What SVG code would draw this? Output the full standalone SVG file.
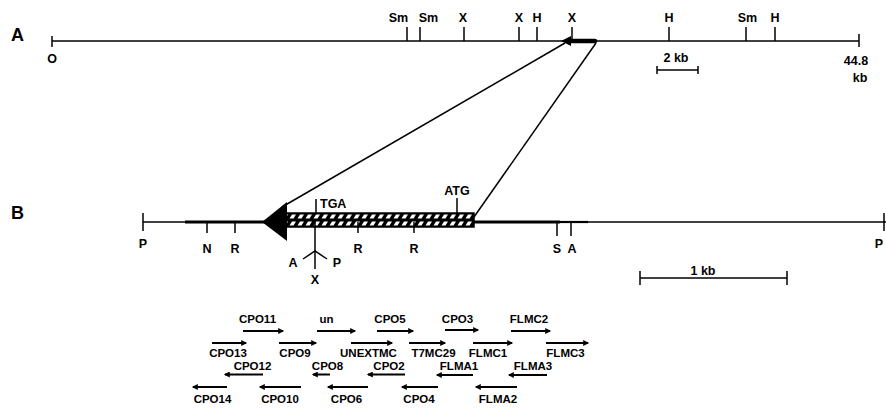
<svg xmlns="http://www.w3.org/2000/svg" width="886" height="410" viewBox="0 0 886 410">
<defs>
<style>
text{font-family:"Liberation Sans",Arial,sans-serif;fill:#000}
.lbl{font-size:12.5px;font-weight:bold;text-anchor:middle}
.big{font-size:18px;font-weight:bold}
.g{font-size:11.5px;font-weight:bold;text-anchor:middle}
.ln{stroke:#000;stroke-width:1.5;fill:none}
.thk{stroke:#000;stroke-width:3;fill:none}
.tk{stroke:#000;stroke-width:1.5}
.ar{stroke:#000;stroke-width:2;fill:none;marker-end:url(#ah)}
</style>
<marker id="ah" viewBox="0 0 10 10" refX="8" refY="5" markerWidth="3.5" markerHeight="3" orient="auto" markerUnits="strokeWidth">
<path d="M0,0 L10,5 L0,10 z" fill="#000"/>
</marker>
<pattern id="hatch" patternUnits="userSpaceOnUse" x="0" y="213" width="8" height="7">
<rect width="8" height="7" fill="#000"/>
<polygon points="1.5,5.5 4,1.5 8,1.5 5.5,5.5" fill="#fff"/>
</pattern>
</defs>

<g id="mapA">
<text class="big" x="11" y="41">A</text>
<line class="ln" x1="52" y1="41" x2="859" y2="41"/>
<line class="tk" x1="52" y1="36" x2="52" y2="47"/>
<line class="tk" x1="859" y1="34" x2="859" y2="47"/>
<text class="lbl" x="52" y="63">O</text>
<text class="lbl" x="856" y="65">44.8</text>
<text class="lbl" x="860" y="82">kb</text>
<g id="sitesA">
<line class="tk" x1="407" y1="27" x2="407" y2="41"/>
<line class="tk" x1="420" y1="27" x2="420" y2="41"/>
<line class="tk" x1="464" y1="27" x2="464" y2="41"/>
<line class="tk" x1="519" y1="27" x2="519" y2="41"/>
<line class="tk" x1="537" y1="27" x2="537" y2="41"/>
<line class="tk" x1="572" y1="27" x2="572" y2="41"/>
<line class="tk" x1="669" y1="27" x2="669" y2="41"/>
<line class="tk" x1="746" y1="27" x2="746" y2="41"/>
<line class="tk" x1="775" y1="27" x2="775" y2="41"/>
<text class="lbl" x="398.5" y="22">Sm</text>
<text class="lbl" x="428.5" y="22">Sm</text>
<text class="lbl" x="463" y="22">X</text>
<text class="lbl" x="519" y="22">X</text>
<text class="lbl" x="537" y="22">H</text>
<text class="lbl" x="572" y="22">X</text>
<text class="lbl" x="669" y="22">H</text>
<text class="lbl" x="747.5" y="22">Sm</text>
<text class="lbl" x="775" y="22">H</text>
</g>
<g id="geneA">
<line x1="568" y1="41" x2="595" y2="41" stroke="#000" stroke-width="4.5" stroke-linecap="round"/>
<polygon points="561,41 571,36 571,46" fill="#000"/>
</g>
<g id="scaleA">
<text class="lbl" x="676" y="62">2 kb</text>
<line class="ln" x1="657" y1="70" x2="698" y2="70"/>
<line class="tk" x1="657" y1="66" x2="657" y2="74"/>
<line class="tk" x1="698" y1="66" x2="698" y2="74"/>
</g>
</g>

<g id="connectors">
<line class="ln" x1="565" y1="43" x2="282" y2="207"/>
<line class="ln" x1="596" y1="43" x2="474" y2="217"/>
</g>

<g id="mapB">
<text class="big" x="11" y="219">B</text>
<line class="ln" x1="143" y1="222" x2="886" y2="222"/>
<line class="thk" x1="185" y1="222" x2="265" y2="222"/>
<line class="thk" x1="474" y1="222" x2="560" y2="222"/>
<line x1="560" y1="222" x2="588" y2="222" stroke="#000" stroke-width="2.2"/>
<line class="tk" x1="143" y1="213" x2="143" y2="231"/>
<line class="tk" x1="884" y1="213" x2="884" y2="231"/>
<text class="lbl" x="143" y="248">P</text>
<text class="lbl" x="879" y="248">P</text>
<g id="orf">
<rect x="285" y="213" width="189" height="14" fill="url(#hatch)" stroke="#000" stroke-width="1.5"/>
<line x1="285" y1="220" x2="474" y2="220" stroke="#000" stroke-width="1.2"/>
<polygon points="262,222 287,202 287,241" fill="#000"/>
</g>
<g id="sitesB">
<line class="tk" x1="316" y1="199" x2="316" y2="213"/>
<text class="lbl" x="320" y="208" style="text-anchor:start">TGA</text>
<line class="tk" x1="457" y1="198" x2="457" y2="213"/>
<text class="lbl" x="457" y="195">ATG</text>
<line class="tk" x1="207" y1="222" x2="207" y2="233"/>
<line class="tk" x1="235" y1="222" x2="235" y2="233"/>
<line class="tk" x1="358" y1="222" x2="358" y2="233"/>
<line class="tk" x1="414" y1="222" x2="414" y2="233"/>
<line class="tk" x1="557" y1="222" x2="557" y2="236"/>
<line class="tk" x1="571" y1="222" x2="571" y2="236"/>
<text class="lbl" x="207" y="253">N</text>
<text class="lbl" x="235" y="253">R</text>
<text class="lbl" x="358" y="253">R</text>
<text class="lbl" x="414" y="253">R</text>
<text class="lbl" x="557" y="253">S</text>
<text class="lbl" x="572" y="253">A</text>
<line class="tk" x1="315" y1="222" x2="315" y2="269"/>
<polyline class="ln" points="303,259 315,251 327,259"/>
<text class="lbl" x="293" y="267">A</text>
<text class="lbl" x="337" y="267">P</text>
<text class="lbl" x="315" y="284">X</text>
</g>
<g id="scaleB">
<text class="lbl" x="703" y="275">1 kb</text>
<line class="ln" x1="640" y1="278" x2="787" y2="278"/>
<line class="tk" x1="640" y1="271" x2="640" y2="285"/>
<line class="tk" x1="787" y1="271" x2="787" y2="285"/>
</g>
</g>

<g id="transcripts">
<g id="row1">
<text class="g" x="257.5" y="323">CPO11</text>
<text class="g" x="326.5" y="323">un</text>
<text class="g" x="390" y="323">CPO5</text>
<text class="g" x="457.5" y="323">CPO3</text>
<text class="g" x="529" y="323">FLMC2</text>
<line class="ar" x1="243" y1="331" x2="283" y2="331"/>
<line class="ar" x1="317" y1="331" x2="355" y2="331"/>
<line class="ar" x1="377" y1="331" x2="413" y2="331"/>
<line class="ar" x1="445" y1="330" x2="478" y2="330"/>
<line class="ar" x1="511" y1="331" x2="550" y2="331"/>
</g>
<g id="row2">
<line class="ar" x1="212" y1="343" x2="246" y2="343"/>
<line class="ar" x1="279" y1="343" x2="316" y2="343"/>
<line class="ar" x1="351" y1="343" x2="392" y2="343"/>
<line class="ar" x1="409" y1="343" x2="445" y2="343"/>
<line class="ar" x1="473" y1="343" x2="512" y2="343"/>
<line class="ar" x1="546" y1="343" x2="588" y2="343"/>
<text class="g" x="228" y="357">CPO13</text>
<text class="g" x="295" y="357">CPO9</text>
<text class="g" x="368.5" y="357">UNEXTMC</text>
<text class="g" x="433.5" y="357">T7MC29</text>
<text class="g" x="488" y="357">FLMC1</text>
<text class="g" x="565.5" y="357">FLMC3</text>
</g>
<g id="row3">
<text class="g" x="252.5" y="370">CPO12</text>
<text class="g" x="327.5" y="370">CPO8</text>
<text class="g" x="389" y="370">CPO2</text>
<text class="g" x="459" y="370">FLMA1</text>
<text class="g" x="533" y="370">FLMA3</text>
<line class="ar" x1="263" y1="374.5" x2="225" y2="374.5"/>
<line class="ar" x1="330" y1="374.5" x2="313" y2="374.5"/>
<line class="ar" x1="405" y1="374.5" x2="368" y2="374.5"/>
<line class="ar" x1="473" y1="375" x2="437" y2="375"/>
<line class="ar" x1="547" y1="375" x2="509" y2="375"/>
</g>
<g id="row4">
<line class="ar" x1="227" y1="387" x2="193" y2="387"/>
<line class="ar" x1="301" y1="387" x2="260" y2="387"/>
<line class="ar" x1="368" y1="387" x2="328" y2="387"/>
<line class="ar" x1="438" y1="387" x2="402" y2="387"/>
<line class="ar" x1="517" y1="387" x2="476" y2="387"/>
<text class="g" x="212.5" y="403">CPO14</text>
<text class="g" x="280" y="403">CPO10</text>
<text class="g" x="346.5" y="403">CPO6</text>
<text class="g" x="419" y="403">CPO4</text>
<text class="g" x="498" y="403">FLMA2</text>
</g>
</g>
</svg>
